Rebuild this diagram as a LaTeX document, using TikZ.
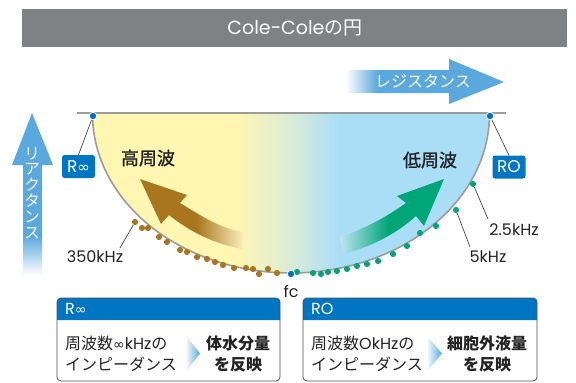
\documentclass[tikz,border=0pt]{standalone}
\usepackage{fontspec}
\setmainfont{Poppins}
\newfontfamily\jp{Noto Sans CJK JP}
\newfontfamily\jpm{Noto Sans CJK JP}[FakeBold=1.2]
\newfontfamily\dv{DejaVu Sans}
\definecolor{titlegray}{RGB}{128,129,133}
\definecolor{arrowblue}{RGB}{90,168,222}
\definecolor{boxblue}{RGB}{0,117,194}
\definecolor{dotblue}{RGB}{0,114,188}
\definecolor{brownc}{RGB}{168,118,28}
\definecolor{greenc}{RGB}{0,166,120}
\definecolor{linegray}{RGB}{155,155,155}
\definecolor{txt}{RGB}{35,35,35}
\definecolor{ybg}{RGB}{255,246,178}
\definecolor{gbg}{RGB}{222,236,212}
\definecolor{bbg}{RGB}{170,222,247}
\definecolor{brownend}{RGB}{250,238,190}
\definecolor{greenend}{RGB}{190,228,242}
\definecolor{chevlight}{RGB}{235,245,252}
\pgfdeclarehorizontalshading{bgshade}{100bp}{color(0bp)=(ybg); color(43bp)=(ybg); color(49.5bp)=(gbg); color(56bp)=(bbg); color(100bp)=(bbg)}
\pgfdeclarehorizontalshading{brownshade}{100bp}{color(0bp)=(brownc); color(52bp)=(brownc); color(75bp)=(brownend); color(100bp)=(brownend)}
\pgfdeclarehorizontalshading{greenshade}{100bp}{color(0bp)=(greenend); color(25bp)=(greenend); color(48bp)=(greenc); color(100bp)=(greenc)}
\pgfdeclarehorizontalshading{resshade}{100bp}{color(0bp)=(white); color(25bp)=(white); color(35bp)=(arrowblue); color(100bp)=(arrowblue)}
\pgfdeclareverticalshading{reactshade}{100bp}{color(0bp)=(white); color(25bp)=(white); color(37bp)=(arrowblue); color(100bp)=(arrowblue)}
\pgfdeclarehorizontalshading{chevshade}{100bp}{color(0bp)=(chevlight); color(25bp)=(chevlight); color(75bp)=(arrowblue); color(100bp)=(arrowblue)}
\begin{document}
\begin{tikzpicture}[x=1pt,y=-1pt,
  lbl/.style={font=\fontsize{16}{16}\selectfont, text=txt, inner sep=0},
  jplbl/.style={font=\jpm\fontsize{18}{18}\selectfont, text=txt, inner sep=0},
  tagbox/.style={fill=boxblue, rounded corners=2.5, minimum width=33, minimum height=23, inner sep=0, text=white, font=\fontsize{17}{17}\selectfont},
  leader/.style={draw=txt!85, line width=0.7},
  bdot/.style={circle, fill=brownc, minimum size=6.2, inner sep=0},
  gdot/.style={circle, fill=greenc, minimum size=6.2, inner sep=0},
  bluedot/.style={circle, fill=dotblue, draw=white, line width=0.8, minimum size=7.5, inner sep=0},
  boxline/.style={draw=txt!80, line width=0.8, rounded corners=4},
  boxtext/.style={font=\fontsize{16}{21}\selectfont, text=txt, inner sep=0, align=left, anchor=west},
  boldtext/.style={font=\jp\bfseries\fontsize{16}{21}\selectfont, text=txt, inner sep=0, align=center}]
\useasboundingbox (0,0) rectangle (576,383);

% title bar
\fill[titlegray] (22,9) rectangle (567,47);
\node[font=\fontsize{19}{19}\selectfont, text=white, inner sep=0] (title) at (295,28) {Cole-Cole{\jp の円}};

% resistance arrow
\shade[shading=resshade] (346,70) -- (449,70) -- (449,59) -- (504,82) -- (449,104) -- (449,93) -- (346,93) -- cycle;
\node[font=\jp\fontsize{16}{16}\selectfont, text=white, inner sep=0] (res) at (423,81) {レジスタンス};

% reactance arrow
\shade[shading=reactshade] (23,275) -- (23,165) -- (12,165) -- (32,113) -- (53,165) -- (42,165) -- (42,275) -- cycle;
\node[font=\jp\fontsize{15.5}{15.8}\selectfont, text=white, inner sep=0, align=center] (react) at (32,193) {リ\\ア\\ク\\タ\\ン\\ス};

% semicircle background
\shade[shading=bgshade] plot[domain=180:360, samples=120] ({291+198.5*cos(\x)},{114-159*sin(\x)}) -- cycle;
\draw[linegray, line width=1.6] plot[domain=180:360, samples=120] ({291+198.5*cos(\x)},{114-159*sin(\x)});
\draw[linegray, line width=2] (77,113) -- (506,113);

% frequency arrows
\shade[shading=brownshade] (140,179) -- (161,224) -- (169,215) .. controls (190,232) and (215,244) .. (242,249) -- (243,232) .. controls (218,228) and (197,213) .. (180,203) -- (187,195) -- cycle;
\shade[shading=greenshade] (444,179) -- (397,196) -- (406,203) .. controls (385,218) and (362,230) .. (340,237) -- (343,254) .. controls (370,247) and (395,235) .. (416,216) -- (424,226) -- cycle;

\node[jplbl] (hi) at (148,158) {高周波};
\node[jplbl] (lo) at (430,160) {低周波};

% dots
\foreach \px/\py [count=\i] in {135/222,142/228,148/228,159/237,167/242,180/250,187/252,197/257,207/259,215/262,223/265,234/268,246/268,253/269,259/274,268/269,277/273}
  \node[bdot] (b\i) at (\px,\py) {};
\foreach \px/\py [count=\i] in {297/272,313/273,321/274,328/272,337/271,347/269,357/266,367/264,378/261,393/254,407/246,420/233,436/226,456/210,473/184}
  \node[gdot] (g\i) at (\px,\py) {};
\node[bluedot] (dinf) at (93,116) {};
\node[bluedot] (dzero) at (490,116) {};
\node[bluedot] (dfc) at (291,274) {};

% tags
\node[tagbox] (tinf) at (78.5,166.5) {R{\dv\fontsize{15}{15}\selectfont ∞}};
\node[tagbox] (tzero) at (509,167) {RO};
\draw[leader] (dinf) -- (tinf.north);
\draw[leader] (dzero) -- (tzero.north);

% frequency labels
\node[lbl] (l350) at (95,257) {350kHz};
\node[lbl] (l25) at (514,230) {2.5kHz};
\node[lbl] (l5) at (488,257) {5kHz};
\node[lbl] (lfc) at (291,291) {fc};
\coordinate (c350) at (120,248);
\coordinate (c25) at (488,219);
\coordinate (c5) at (470,247);
\draw[leader] (b1) -- (c350);
\draw[leader] (g15) -- (c25);
\draw[leader] (g14) -- (c5);

% bottom left box
\fill[boxblue] (57,320) [rounded corners=4] -- (57,298) -- (280,298) [sharp corners] -- (280,320) -- cycle;
\draw[boxline] (57,381) -- (57,298) -- (280,298) -- (280,381) -- cycle;
\node[font=\fontsize{16}{16}\selectfont, text=white, inner sep=0, anchor=west] (hinf) at (65,309) {R{\dv\fontsize{14}{14}\selectfont ∞}};
\node[boxtext] (tx1) at (65,353.5) {{\jp 周波数}{\dv\fontsize{14}{14}\selectfont ∞}kHz{\jp の}\\{\jp インピーダンス}};
\shade[shading=chevshade] (187,337) -- (200,353.5) -- (187,370) -- cycle;
\node[boldtext] (bx1) at (238,353.5) {体水分量\\を反映};

% bottom right box
\fill[boxblue] (303,320) [rounded corners=4] -- (303,298) -- (537,298) [sharp corners] -- (537,320) -- cycle;
\draw[boxline] (303,381) -- (303,298) -- (537,298) -- (537,381) -- cycle;
\node[font=\fontsize{16}{16}\selectfont, text=white, inner sep=0, anchor=west] (hzero) at (311,309) {RO};
\node[boxtext] (tx2) at (311,353.5) {{\jp 周波数}OkHz{\jp の}\\{\jp インピーダンス}};
\shade[shading=chevshade] (428,337) -- (442,353.5) -- (428,370) -- cycle;
\node[boldtext] (bx2) at (487,353.5) {細胞外液量\\を反映};
\end{tikzpicture}
\end{document}
